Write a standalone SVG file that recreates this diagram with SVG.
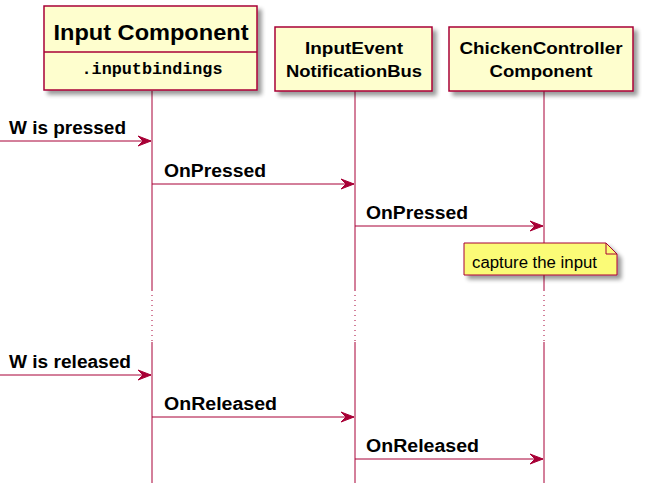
<svg xmlns="http://www.w3.org/2000/svg" width="650" height="490" viewBox="0 0 650 490">
<defs>
<filter id="sh" x="-10%" y="-10%" width="130%" height="140%">
<feGaussianBlur in="SourceAlpha" stdDeviation="2"/>
<feOffset dx="4" dy="4" result="b"/>
<feComponentTransfer><feFuncA type="linear" slope="0.4"/></feComponentTransfer>
<feMerge><feMergeNode/><feMergeNode in="SourceGraphic"/></feMerge>
</filter>
<marker id="ah" viewBox="-14 -6 15 12" refX="0" refY="0" markerWidth="15" markerHeight="12" markerUnits="userSpaceOnUse" orient="auto">
<polygon points="-13,-5 0,0 -13,5 -8,0" fill="#A80036" stroke="#A80036" stroke-width="1"/>
</marker>
</defs>
<style>
.box{fill:#FEFECE;stroke:#A80036;stroke-width:1.5}
.life{stroke:#A80036;stroke-width:1;fill:none}
.dot{stroke:#A80036;stroke-width:1;stroke-dasharray:1,4;fill:none}
.msg{stroke:#A80036;stroke-width:1;fill:none}
.t{font-family:"Liberation Sans",Arial,sans-serif;font-weight:bold;fill:#000}
.m{font-family:"Liberation Mono","Courier New",monospace;font-weight:bold;fill:#000}
.n{font-family:"Liberation Sans",Arial,sans-serif;fill:#000}
</style>
<rect width="650" height="490" fill="#FFFFFF"/>

<g id="lifelines">
<path class="life" d="M152,91 V290 M152,342 V483 M355,91 V290 M355,342 V483 M544,91 V290 M544,342 V483"/>
<path class="dot" d="M152,290 V342 M355,290 V342 M544,290 V342"/>
</g>

<g id="input-component">
<rect class="box" x="44" y="6" width="213" height="84" filter="url(#sh)"/>
<line x1="44" y1="52" x2="257" y2="52" stroke="#A80036" stroke-width="1.5"/>
<text class="t" x="151" y="40" font-size="22" text-anchor="middle" textLength="195" lengthAdjust="spacingAndGlyphs">Input Component</text>
<text class="m" x="152" y="74" font-size="16" text-anchor="middle" textLength="141" lengthAdjust="spacingAndGlyphs">.inputbindings</text>
</g>

<g id="input-event-bus">
<rect class="box" x="275" y="27" width="157" height="64" filter="url(#sh)"/>
<text class="t" x="354" y="54" font-size="17" text-anchor="middle" textLength="98" lengthAdjust="spacingAndGlyphs">InputEvent</text>
<text class="t" x="354" y="77" font-size="17" text-anchor="middle" textLength="136" lengthAdjust="spacingAndGlyphs">NotificationBus</text>
</g>

<g id="chicken-controller">
<rect class="box" x="449" y="27" width="184" height="64" filter="url(#sh)"/>
<text class="t" x="541" y="54" font-size="17" text-anchor="middle" textLength="163" lengthAdjust="spacingAndGlyphs">ChickenController</text>
<text class="t" x="541" y="77" font-size="17" text-anchor="middle" textLength="103" lengthAdjust="spacingAndGlyphs">Component</text>
</g>

<g id="note">
<path d="M464,243 H606 L617,254 V275 H464 Z" fill="#FBFB77" stroke="#A80036" stroke-width="1" filter="url(#sh)"/>
<path d="M606,243 V254 H617" fill="none" stroke="#A80036" stroke-width="1"/>
<text class="n" x="472" y="268" font-size="16" textLength="125" lengthAdjust="spacingAndGlyphs">capture the input</text>
</g>

<g id="connectors">
<line class="msg" x1="0" y1="141" x2="151" y2="141" marker-end="url(#ah)"/>
<line class="msg" x1="152" y1="184" x2="354" y2="184" marker-end="url(#ah)"/>
<line class="msg" x1="355" y1="226" x2="543" y2="226" marker-end="url(#ah)"/>
<line class="msg" x1="0" y1="375" x2="151" y2="375" marker-end="url(#ah)"/>
<line class="msg" x1="152" y1="417" x2="354" y2="417" marker-end="url(#ah)"/>
<line class="msg" x1="355" y1="459" x2="543" y2="459" marker-end="url(#ah)"/>
<text class="t" x="9" y="134" font-size="18" textLength="117" lengthAdjust="spacingAndGlyphs">W is pressed</text>
<text class="t" x="164" y="177" font-size="18" textLength="102" lengthAdjust="spacingAndGlyphs">OnPressed</text>
<text class="t" x="366" y="219" font-size="18" textLength="102" lengthAdjust="spacingAndGlyphs">OnPressed</text>
<text class="t" x="9" y="368" font-size="18" textLength="122" lengthAdjust="spacingAndGlyphs">W is released</text>
<text class="t" x="164" y="410" font-size="18" textLength="113" lengthAdjust="spacingAndGlyphs">OnReleased</text>
<text class="t" x="366" y="452" font-size="18" textLength="113" lengthAdjust="spacingAndGlyphs">OnReleased</text>
</g>
</svg>
